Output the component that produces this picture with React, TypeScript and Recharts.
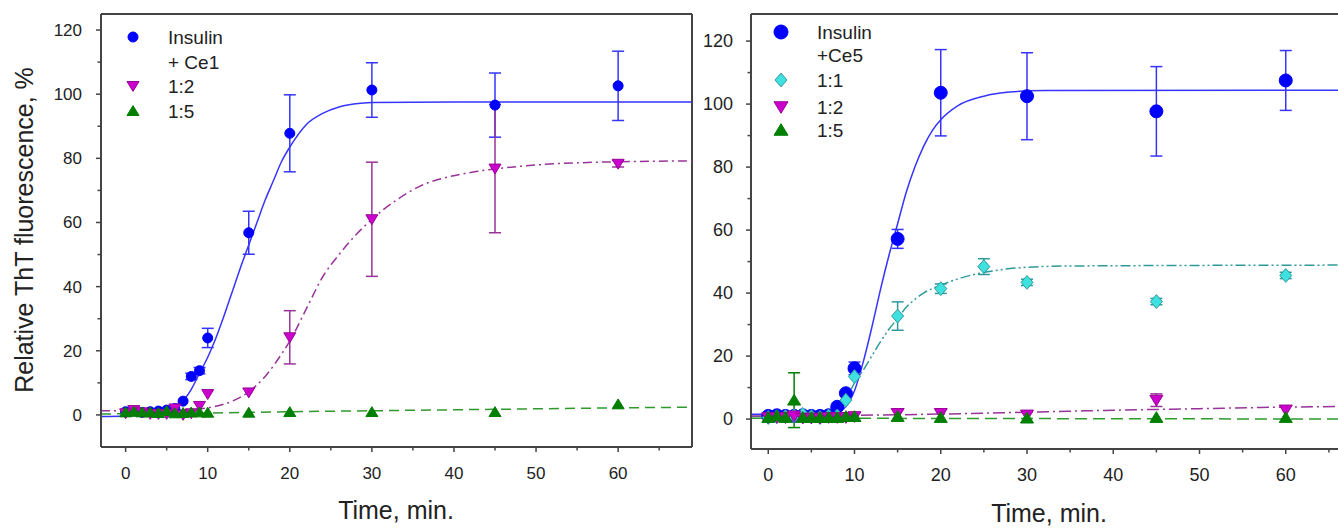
import { ComposedChart, Line, Scatter, XAxis, YAxis, ErrorBar, ReferenceLine } from 'recharts';

const FONT = '"Liberation Sans", Arial, sans-serif';
const AXIS = '#444';
const TEXT = '#222';

// ---- left panel: insulin + Ce1 ----
const ce1Time = [0, 1, 2, 3, 4, 5, 6, 7, 8, 9, 10, 15, 20, 30, 45, 60];
const ce1Insulin = [1.0, 1.2, 0.8, 1.0, 1.2, 1.5, 2.0, 4.3, 12, 13.8, 24, 56.8, 87.8, 101.3, 96.6, 102.6];
const ce1InsulinErr = [0, 0, 0, 0, 0, 0, 0, 0, 1, 1, 3, 6.7, 12, 8.5, 10, 10.8];
const ce1Ratio12 = [0.5, 1.5, 0.8, 0.3, 0.3, 0.3, 2.0, 0, 0.5, 2.8, 6.5, 7, 24.2, 61, 76.8, 78.3];
const ce1Ratio12Err = [0, 0, 0, 0, 0, 0, 0, 0, 0, 0, 0, 0, 8.3, 17.8, 20, 1];
const ce1Ratio15 = [0.8, 1, 0.8, 0.8, 0.6, 1.2, 0.5, 0.6, 0.8, 0.8, 0.7, 0.7, 0.9, 0.9, 0.9, 3.3];

// fitted curves
const ce1InsulinFitT = [-3, 0, 2, 4, 6, 7, 8, 9, 10, 11, 12, 13, 14, 15, 16, 17, 18, 19, 20, 22, 24, 26, 28, 30, 40, 69];
const ce1InsulinFitV = [-0.5, -0.3, 0.2, 1.2, 3, 4.5, 8, 13, 18, 24, 31, 38.5, 46, 53, 60, 67, 73, 79, 83.5, 90.5, 94, 96, 97, 97.4, 97.6, 97.6];
const ce1Ratio12FitT = [-3, 0, 5, 8, 10, 11, 13, 15, 17, 19, 20, 22, 24, 26, 28, 30, 33, 36, 39, 43, 48, 55, 69];
const ce1Ratio12FitV = [1.3, 1.3, 1.4, 1.7, 2.2, 2.7, 4.3, 7.2, 12, 19, 23, 33, 43, 50, 56, 61, 67, 71.5, 74, 76, 77.5, 78.6, 79.2];
const ce1Ratio15FitT = [-3, 10, 20, 30, 40, 50, 60, 69];
const ce1Ratio15FitV = [0.3, 0.6, 1.0, 1.3, 1.6, 1.9, 2.2, 2.4];

// ---- right panel: insulin + Ce5 ----
const ce5Time = [0, 1, 2, 3, 4, 5, 6, 7, 8, 9, 10, 15, 20, 30, 45, 60];
const ce5Insulin = [1, 1.2, 1, 1, 1.2, 1, 1, 1.2, 3.9, 8.2, 16.1, 57.2, 103.6, 102.5, 97.7, 107.5];
const ce5InsulinErr = [0, 0, 0, 0, 0, 0, 0, 0, 0, 0, 2, 3, 13.7, 13.8, 14.2, 9.5];
const ce5CyanTime = [0, 1, 2, 3, 4, 5, 6, 7, 8, 9, 10, 15, 20, 25, 30, 45, 60];
const ce5Ratio11 = [0.5, 0.8, 0.8, 1, 1.5, 0.8, 0.5, 1, 1, 6, 13.5, 32.7, 41.4, 48.4, 43.4, 37.3, 45.6];
const ce5Ratio11Err = [0, 0, 0, 0, 0, 0, 0, 0, 0, 0, 0, 4.5, 1.5, 2.5, 1, 1, 1];
const ce5Ratio12 = [0.5, 0.5, 0.5, 1, 0.3, 0.3, 0.3, 0.5, 0.5, 0.5, 0.8, 1.8, 1.8, 1.3, 6, 2.9];
const ce5Ratio12Err = [0, 0, 0, 0, 0, 0, 0, 0, 0, 0, 0, 0, 0, 0, 2, 0];
const ce5Ratio15 = [0.5, 1, 0.5, 6, 0.5, 0.5, 0.5, 0.5, 0.5, 0.8, 0.8, 0.8, 0.5, 0.3, 0.5, 0.5];
const ce5Ratio15Err = [0, 0, 0, 8.7, 0, 0, 0, 0, 0, 0, 0, 0, 0, 0, 0, 0];

const ce5InsulinFitT = [-2, 5, 8, 9, 10, 11, 12, 13, 14, 15, 16, 17, 18, 19, 20, 22, 25, 28, 32, 70];
const ce5InsulinFitV = [1.5, 1.5, 2.3, 4, 9, 18, 29, 41, 52, 62, 72, 80, 86.5, 91.5, 95, 99.5, 102.5, 103.8, 104.3, 104.4];
const ce5Ratio11FitT = [-2, 7, 8, 9, 10, 11, 12, 13, 14, 15, 16, 17, 18, 20, 22, 24, 26, 28, 30, 35, 70];
const ce5Ratio11FitV = [0.8, 0.8, 2, 6, 11.5, 15.5, 20, 24.5, 28.5, 32, 35.5, 38, 40, 42.5, 44.5, 46, 47, 47.8, 48.2, 48.6, 48.9];
const ce5Ratio12FitT = [-2, 10, 20, 30, 40, 50, 60, 70];
const ce5Ratio12FitV = [1, 1.2, 1.6, 2.2, 2.8, 3.3, 3.8, 4.1];
const ce5Ratio15FitT = [-2, 20, 70];
const ce5Ratio15FitV = [0.3, 0.2, 0];

const xMajor = [0, 10, 20, 30, 40, 50, 60];
const xTicks = [0, 5, 10, 15, 20, 25, 30, 35, 40, 45, 50, 55, 60, 65];
const yTicks = [0, 10, 20, 30, 40, 50, 60, 70, 80, 90, 100, 110, 120];

const legendLeft = ['Insulin', '+ Ce1', '1:2', '1:5'];
const legendRight = ['Insulin', '+Ce5', '1:1', '1:2', '1:5'];

type Pt = { t: number; v: number; err?: number };
type Kind = 'circle' | 'down' | 'up' | 'diamond';

const pts = (time: number[], vals: number[], errs?: number[]): Pt[] =>
  time.map((t, i) => ({ t, v: vals[i], err: errs ? errs[i] : 0 }));
const curve = (ts: number[], vs: number[]): Pt[] => ts.map((t, i) => ({ t, v: vs[i] }));

function Marker({ kind, cx, cy, s, fill, stroke }: { kind: Kind; cx: number; cy: number; s: number; fill: string; stroke: string }) {
  if (kind === 'circle') return <circle cx={cx} cy={cy} r={s} fill={fill} stroke={stroke} strokeWidth={1} />;
  if (kind === 'down')
    return <polygon points={`${cx - s},${cy - s * 0.75} ${cx + s},${cy - s * 0.75} ${cx},${cy + s * 0.9}`} fill={fill} stroke={stroke} strokeWidth={1} />;
  if (kind === 'up')
    return <polygon points={`${cx - s},${cy + s * 0.75} ${cx + s},${cy + s * 0.75} ${cx},${cy - s * 0.9}`} fill={fill} stroke={stroke} strokeWidth={1} />;
  return <polygon points={`${cx},${cy - s * 1.15} ${cx + s},${cy} ${cx},${cy + s * 1.15} ${cx - s},${cy}`} fill={fill} stroke={stroke} strokeWidth={1} />;
}

type SeriesDef = {
  key: string;
  data: Pt[];
  fit: Pt[];
  kind: Kind;
  size: number;
  fill: string;
  stroke: string;
  bar: string;
  line: string;
  dash?: string;
};

const XTick = (p: any) => {
  const major = xMajor.includes(p.payload.value);
  return (
    <g>
      <line x1={p.x} x2={p.x} y1={p.y} y2={p.y + (major ? 5 : 3.5)} stroke={AXIS} strokeWidth={1.5} />
      {major && (
        <text x={p.x} y={p.y + 32} textAnchor="middle" fontSize={p.fs} fontFamily={FONT} fill={TEXT}>
          {p.payload.value}
        </text>
      )}
    </g>
  );
};

const YTick = (p: any) => {
  const major = p.payload.value % 20 === 0;
  return (
    <g>
      <line x1={p.x} x2={p.x - (major ? 5 : 3.5)} y1={p.y} y2={p.y} stroke={AXIS} strokeWidth={1.5} />
      {major && (
        <text x={p.x - p.gap} y={p.y + 6} textAnchor="end" fontSize={p.fs} fontFamily={FONT} fill={TEXT}>
          {p.payload.value}
        </text>
      )}
    </g>
  );
};

function Panel(props: {
  width: number;
  margin: { top: number; right: number; bottom: number; left: number };
  yWidth: number;
  xDomain: [number, number];
  yDomain: [number, number];
  series: SeriesDef[];
  fs: number;
  gap: number;
  rightBorder: boolean;
}) {
  const { width, margin, yWidth, xDomain, yDomain, series, fs, gap, rightBorder } = props;
  return (
    <ComposedChart width={width} height={529} margin={margin}>
      <XAxis
        type="number"
        dataKey="t"
        domain={xDomain}
        allowDataOverflow
        ticks={xTicks}
        interval={0}
        tickSize={0}
        tickMargin={0}
        height={40}
        axisLine={{ stroke: AXIS, strokeWidth: 2 }}
        tickLine={false}
        tick={(p: any) => <XTick {...p} fs={fs} />}
      />
      <YAxis
        type="number"
        domain={yDomain}
        allowDataOverflow
        ticks={yTicks}
        interval={0}
        tickSize={0}
        tickMargin={0}
        width={yWidth}
        axisLine={{ stroke: AXIS, strokeWidth: 2 }}
        tickLine={false}
        tick={(p: any) => <YTick {...p} fs={fs} gap={gap} />}
      />
      <ReferenceLine y={yDomain[1]} stroke={AXIS} strokeWidth={2} />
      {rightBorder && <ReferenceLine x={xDomain[1]} stroke={AXIS} strokeWidth={2} />}
      {series.map((s) => (
        <Line
          key={s.key + '-fit'}
          data={s.fit}
          dataKey="v"
          type="monotone"
          stroke={s.line}
          strokeWidth={1.5}
          strokeDasharray={s.dash}
          dot={false}
          activeDot={false}
          isAnimationActive={false}
        />
      ))}
      {series.map((s) => (
        <Scatter
          key={s.key + '-err'}
          data={s.data.filter((d) => (d.err ?? 0) > 0)}
          dataKey="v"
          shape={() => <g />}
          isAnimationActive={false}
        >
          <ErrorBar dataKey="err" direction="y" width={6} stroke={s.bar} strokeWidth={1.5} />
        </Scatter>
      ))}
      {series.map((s) => (
        <Scatter
          key={s.key + '-pts'}
          data={s.data}
          dataKey="v"
          isAnimationActive={false}
          shape={(p: any) => <Marker kind={s.kind} cx={p.cx} cy={p.cy} s={s.size} fill={s.fill} stroke={s.stroke} />}
        />
      ))}
    </ComposedChart>
  );
}

const BLUE = '#0000ff';
const BLUE_LINE = '#3535ff';
const MAG = '#cc00cc';
const MAG_LINE = '#993399';
const GREEN = '#007f00';
const GREEN_LINE = '#2e9a2e';
const CYAN = '#3fe0e0';
const CYAN_LINE = '#2f9a9a';

const leftSeries: SeriesDef[] = [
  { key: 'ins', data: pts(ce1Time, ce1Insulin, ce1InsulinErr), fit: curve(ce1InsulinFitT, ce1InsulinFitV), kind: 'circle', size: 5, fill: BLUE, stroke: BLUE, bar: BLUE_LINE, line: BLUE_LINE },
  { key: 'r12', data: pts(ce1Time, ce1Ratio12, ce1Ratio12Err), fit: curve(ce1Ratio12FitT, ce1Ratio12FitV), kind: 'down', size: 6, fill: MAG, stroke: '#990099', bar: MAG_LINE, line: MAG_LINE, dash: '9 4 2 4' },
  { key: 'r15', data: pts(ce1Time, ce1Ratio15), fit: curve(ce1Ratio15FitT, ce1Ratio15FitV), kind: 'up', size: 6, fill: GREEN, stroke: GREEN, bar: GREEN_LINE, line: GREEN_LINE, dash: '10 6' },
];

const rightSeries: SeriesDef[] = [
  { key: 'ins', data: pts(ce5Time, ce5Insulin, ce5InsulinErr), fit: curve(ce5InsulinFitT, ce5InsulinFitV), kind: 'circle', size: 6.5, fill: BLUE, stroke: BLUE, bar: BLUE_LINE, line: BLUE_LINE },
  { key: 'r11', data: pts(ce5CyanTime, ce5Ratio11, ce5Ratio11Err), fit: curve(ce5Ratio11FitT, ce5Ratio11FitV), kind: 'diamond', size: 6, fill: CYAN, stroke: CYAN_LINE, bar: CYAN_LINE, line: CYAN_LINE, dash: '10 3 2 3 2 3' },
  { key: 'r12', data: pts(ce5Time, ce5Ratio12, ce5Ratio12Err), fit: curve(ce5Ratio12FitT, ce5Ratio12FitV), kind: 'down', size: 6.5, fill: MAG, stroke: '#990099', bar: MAG_LINE, line: MAG_LINE, dash: '12 4 2 4' },
  { key: 'r15', data: pts(ce5Time, ce5Ratio15, ce5Ratio15Err), fit: curve(ce5Ratio15FitT, ce5Ratio15FitV), kind: 'up', size: 6.5, fill: GREEN, stroke: GREEN, bar: GREEN, line: GREEN_LINE, dash: '12 6' },
];

export default function App() {
  const legendFs = 19;
  return (
    <div style={{ position: 'absolute', left: 0, top: 0, width: 1338, height: 529, overflow: 'hidden', background: '#fff' }}>
      <div style={{ position: 'absolute', left: 0, top: 0 }}>
        <Panel
          width={700}
          margin={{ top: 14, right: 8, bottom: 42, left: 41 }}
          yWidth={60}
          xDomain={[-3, 69]}
          yDomain={[-10, 125]}
          series={leftSeries}
          fs={17}
          gap={19}
          rightBorder
        />
      </div>
      <div style={{ position: 'absolute', left: 690, top: 0 }}>
        <Panel
          width={690}
          margin={{ top: 14, right: 8, bottom: 40, left: 16 }}
          yWidth={45}
          xDomain={[-2, 70]}
          yDomain={[-9.5, 128.6]}
          series={rightSeries}
          fs={18}
          gap={18}
          rightBorder={false}
        />
      </div>
      <svg width={1338} height={529} style={{ position: 'absolute', left: 0, top: 0, pointerEvents: 'none' }} fontFamily={FONT}>
        <text x={24} y={230} transform="rotate(-90 24 230)" textAnchor="middle" dominantBaseline="central" fontSize={25} fill={TEXT}>
          Relative ThT fluorescence, %
        </text>
        <text x={396} y={519} textAnchor="middle" fontSize={25} fill={TEXT}>Time, min.</text>
        <text x={1049} y={522} textAnchor="middle" fontSize={25} fill={TEXT}>Time, min.</text>

        {/* left legend */}
        <Marker kind="circle" cx={133} cy={37} s={5} fill={BLUE} stroke={BLUE} />
        <Marker kind="down" cx={133} cy={86} s={6} fill={MAG} stroke="#990099" />
        <Marker kind="up" cx={133} cy={111} s={6} fill={GREEN} stroke={GREEN} />
        {legendLeft.map((name, i) => (
          <text key={name} x={168} y={[37, 62, 86, 111][i]} dominantBaseline="central" fontSize={legendFs} fill={TEXT}>
            {name}
          </text>
        ))}

        {/* right legend */}
        <Marker kind="circle" cx={781} cy={32} s={7} fill={BLUE} stroke={BLUE} />
        <Marker kind="diamond" cx={781} cy={80} s={6} fill={CYAN} stroke={CYAN_LINE} />
        <Marker kind="down" cx={781} cy={107} s={7} fill={MAG} stroke="#990099" />
        <Marker kind="up" cx={781} cy={130} s={7} fill={GREEN} stroke={GREEN} />
        {legendRight.map((name, i) => (
          <text key={name} x={817} y={[32, 55, 80, 107, 130][i]} dominantBaseline="central" fontSize={legendFs} fill={TEXT}>
            {name}
          </text>
        ))}
      </svg>
    </div>
  );
}
